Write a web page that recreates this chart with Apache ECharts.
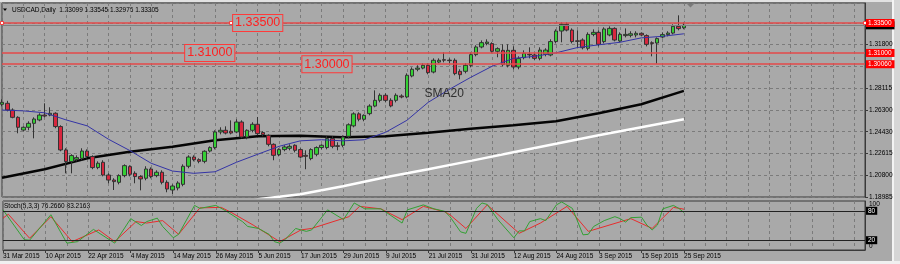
<!DOCTYPE html>
<html>
<head>
<meta charset="utf-8">
<script src="https://cdn.jsdelivr.net/npm/echarts@6/dist/echarts.min.js"></script>
<style>
html, body { margin: 0; padding: 0; background: #e4e4e4; }
#chart { width: 900px; height: 264px; }
</style>
</head>
<body>
<div id="chart"></div>
<script>
// USDCAD daily, 31 Mar 2015 - 25 Sep 2015 (plus empty future slots on the right)
const slotCount = 163;
const dateTicks = ['31 Mar 2015', '10 Apr 2015', '22 Apr 2015', '4 May 2015', '14 May 2015', '26 May 2015',
  '5 Jun 2015', '17 Jun 2015', '29 Jun 2015', '9 Jul 2015', '21 Jul 2015', '31 Jul 2015',
  '12 Aug 2015', '24 Aug 2015', '3 Sep 2015', '15 Sep 2015', '25 Sep 2015'];
const priceTicks = ['1.18985', '1.20800', '1.22615', '1.24430', '1.26300', '1.28115', '', '1.31800', ''];
const priceMin = 1.18985;
const priceStep = 0.01815;

// [open, close, low, high]
const candles = [
  [1.2672, 1.2688, 1.2655, 1.2713], [1.2680, 1.2624, 1.2613, 1.2701], [1.2624, 1.2563, 1.2555, 1.2638],
  [1.2563, 1.2480, 1.2430, 1.2572], [1.2457, 1.2480, 1.2447, 1.2488], [1.2480, 1.2513, 1.2455, 1.2530],
  [1.2513, 1.2549, 1.2388, 1.2563], [1.2541, 1.2582, 1.2530, 1.2597], [1.2582, 1.2574, 1.2563, 1.2680],
  [1.2582, 1.2597, 1.2572, 1.2647], [1.2597, 1.2486, 1.2472, 1.2605], [1.2486, 1.2291, 1.2280, 1.2497],
  [1.2291, 1.2194, 1.2096, 1.2305], [1.2194, 1.2244, 1.2096, 1.2255], [1.2213, 1.2227, 1.2196, 1.2246],
  [1.2221, 1.2282, 1.2205, 1.2305], [1.2282, 1.2236, 1.2221, 1.2296], [1.2236, 1.2144, 1.2130, 1.2246],
  [1.2144, 1.2180, 1.2130, 1.2196], [1.2188, 1.2082, 1.2071, 1.2205], [1.2082, 1.2040, 1.2013, 1.2096],
  [1.2040, 1.2027, 1.1957, 1.2055], [1.2021, 1.2077, 1.2004, 1.2088], [1.2077, 1.2160, 1.2063, 1.2171],
  [1.2152, 1.2088, 1.2071, 1.2163], [1.2096, 1.2069, 1.2013, 1.2113], [1.2069, 1.2049, 1.1954, 1.2080],
  [1.2055, 1.2132, 1.2038, 1.2155], [1.2132, 1.2069, 1.2055, 1.2146], [1.2077, 1.2105, 1.2063, 1.2121],
  [1.2105, 1.2021, 1.2004, 1.2121], [1.2021, 1.1965, 1.1938, 1.2038], [1.1957, 1.1990, 1.1921, 1.2004],
  [1.1974, 1.2015, 1.1954, 1.2030], [1.2004, 1.2155, 1.1988, 1.2171], [1.2155, 1.2232, 1.2138, 1.2246],
  [1.2232, 1.2210, 1.2196, 1.2246], [1.2210, 1.2196, 1.2180, 1.2221], [1.2196, 1.2280, 1.2180, 1.2288],
  [1.2282, 1.2311, 1.2271, 1.2321], [1.2311, 1.2441, 1.2296, 1.2455], [1.2441, 1.2455, 1.2421, 1.2480],
  [1.2455, 1.2432, 1.2421, 1.2488], [1.2447, 1.2432, 1.2421, 1.2538], [1.2441, 1.2524, 1.2430, 1.2547],
  [1.2524, 1.2399, 1.2388, 1.2538], [1.2399, 1.2455, 1.2380, 1.2463], [1.2455, 1.2505, 1.2438, 1.2522],
  [1.2505, 1.2427, 1.2413, 1.2566], [1.2436, 1.2419, 1.2405, 1.2447], [1.2413, 1.2338, 1.2321, 1.2421],
  [1.2338, 1.2246, 1.2205, 1.2346], [1.2252, 1.2294, 1.2238, 1.2305], [1.2294, 1.2316, 1.2280, 1.2330],
  [1.2305, 1.2321, 1.2288, 1.2338], [1.2330, 1.2288, 1.2271, 1.2338], [1.2294, 1.2232, 1.2221, 1.2305],
  [1.2246, 1.2238, 1.2130, 1.2288], [1.2219, 1.2294, 1.2205, 1.2305], [1.2255, 1.2311, 1.2238, 1.2321],
  [1.2311, 1.2330, 1.2296, 1.2338], [1.2311, 1.2386, 1.2296, 1.2405], [1.2386, 1.2321, 1.2305, 1.2405],
  [1.2326, 1.2321, 1.2288, 1.2355], [1.2330, 1.2399, 1.2313, 1.2413], [1.2405, 1.2501, 1.2388, 1.2513],
  [1.2492, 1.2592, 1.2480, 1.2605], [1.2592, 1.2547, 1.2530, 1.2605], [1.2547, 1.2580, 1.2530, 1.2588],
  [1.2594, 1.2657, 1.2580, 1.2672], [1.2657, 1.2705, 1.2647, 1.2788], [1.2705, 1.2747, 1.2688, 1.2763],
  [1.2747, 1.2705, 1.2688, 1.2763], [1.2705, 1.2658, 1.2647, 1.2722], [1.2705, 1.2747, 1.2688, 1.2763],
  [1.2741, 1.2733, 1.2722, 1.2755], [1.2733, 1.2914, 1.2722, 1.2930], [1.2908, 1.2964, 1.2897, 1.2980],
  [1.2964, 1.2974, 1.2947, 1.2997], [1.2974, 1.2997, 1.2964, 1.3014], [1.2997, 1.2936, 1.2922, 1.3014],
  [1.2941, 1.3039, 1.2930, 1.3055], [1.3024, 1.3039, 1.3014, 1.3055], [1.3044, 1.3040, 1.3022, 1.3105],
  [1.3040, 1.3036, 1.3014, 1.3055], [1.3039, 1.2928, 1.2914, 1.3055], [1.2947, 1.2919, 1.2880, 1.2964],
  [1.2947, 1.2997, 1.2930, 1.3014], [1.2997, 1.3086, 1.2980, 1.3105], [1.3086, 1.3150, 1.3072, 1.3164],
  [1.3150, 1.3186, 1.3139, 1.3205], [1.3178, 1.3191, 1.3164, 1.3214], [1.3178, 1.3114, 1.3097, 1.3189],
  [1.3114, 1.3136, 1.3064, 1.3147], [1.3122, 1.3003, 1.2989, 1.3172], [1.2997, 1.3122, 1.2980, 1.3172],
  [1.3122, 1.2983, 1.2964, 1.3155], [1.2983, 1.3053, 1.2964, 1.3072], [1.3061, 1.3097, 1.3047, 1.3122],
  [1.3089, 1.3084, 1.3055, 1.3147], [1.3083, 1.3055, 1.3039, 1.3097], [1.3055, 1.3124, 1.3039, 1.3147],
  [1.3089, 1.3124, 1.3072, 1.3139], [1.3083, 1.3195, 1.3072, 1.3214], [1.3195, 1.3283, 1.3180, 1.3297],
  [1.3283, 1.3339, 1.3189, 1.3355], [1.3339, 1.3291, 1.3280, 1.3355], [1.3291, 1.3195, 1.3180, 1.3305],
  [1.3201, 1.3197, 1.3139, 1.3289], [1.3208, 1.3144, 1.3130, 1.3222], [1.3139, 1.3255, 1.3122, 1.3272],
  [1.3255, 1.3272, 1.3239, 1.3297], [1.3272, 1.3172, 1.3155, 1.3289], [1.3195, 1.3300, 1.3180, 1.3314],
  [1.3250, 1.3305, 1.3239, 1.3322], [1.3305, 1.3208, 1.3197, 1.3314], [1.3200, 1.3255, 1.3189, 1.3272],
  [1.3245, 1.3255, 1.3230, 1.3305], [1.3247, 1.3260, 1.3230, 1.3281], [1.3250, 1.3264, 1.3230, 1.3281],
  [1.3264, 1.3250, 1.3239, 1.3272], [1.3245, 1.3172, 1.3155, 1.3255], [1.3185, 1.3180, 1.3072, 1.3197],
  [1.3183, 1.3220, 1.3011, 1.3230], [1.3233, 1.3253, 1.3222, 1.3272], [1.3253, 1.3266, 1.3239, 1.3281],
  [1.3266, 1.3322, 1.3255, 1.3339], [1.3322, 1.3303, 1.3289, 1.3414], [1.3310, 1.3331, 1.3298, 1.3355]
];

// moving averages, read every few bars: [bar index, price]
const sma20 = [[0, 1.2624], [4, 1.2617], [8, 1.2601], [12, 1.2542], [16, 1.2492], [20, 1.2380], [24, 1.2286],
  [28, 1.2180], [32, 1.2115], [36, 1.2096], [40, 1.2109], [44, 1.2188], [48, 1.2255], [52, 1.2321],
  [56, 1.2367], [60, 1.2376], [64, 1.2367], [68, 1.2376], [72, 1.2438], [76, 1.2538], [80, 1.2688],
  [84, 1.2797], [88, 1.2897], [92, 1.2989], [96, 1.3055], [100, 1.3072], [104, 1.3101], [108, 1.3145],
  [112, 1.3168], [116, 1.3189], [120, 1.3226], [124, 1.3239], [128, 1.3260]];
const smaBlack = [[0, 1.2059], [8, 1.2130], [16, 1.2221], [24, 1.2276], [32, 1.2317], [40, 1.2371],
  [48, 1.2405], [56, 1.2409], [64, 1.2396], [72, 1.2405], [80, 1.2434], [88, 1.2467], [96, 1.2497],
  [104, 1.2530], [112, 1.2597], [120, 1.2672], [128, 1.2784]];
const smaWhite = [[44, 1.1829], [48, 1.1879], [56, 1.1921], [64, 1.1988], [72, 1.2063], [80, 1.2130],
  [88, 1.2200], [96, 1.2271], [104, 1.2342], [112, 1.2413], [120, 1.2480], [128, 1.2547]];

// price levels drawn on the chart
const levels = [1.335, 1.31, 1.3006];
const levelLabels = ['1.33500', '1.31000', '1.30060'];
const levelNotes = [[48, 1.335, '1.33500'], [39, 1.31, '1.31000'], [61, 1.3006, '1.30000']];
const levelHandles = [[0, 1.335], [43, 1.335], [162, 1.335]];
const lastPrice = 1.33305;

// Stochastic(5,3,3): [bar index, value]
const stochK = [[0, 82], [4, 21], [5, 20], [9, 72], [12, 14], [14, 17], [17, 42], [21, 14], [24, 64],
  [26, 50], [27, 58], [29, 65], [30, 48], [32, 25], [33, 32], [36, 91], [37, 85], [40, 91], [42, 79],
  [45, 58], [46, 48], [48, 44], [50, 32], [51, 17], [52, 14], [53, 21], [55, 44], [57, 38], [58, 41],
  [60, 68], [61, 82], [64, 62], [66, 96], [68, 84], [71, 84], [72, 77], [75, 55], [76, 82], [79, 92],
  [81, 84], [83, 79], [84, 68], [86, 37], [87, 34], [89, 85], [90, 96], [91, 93], [93, 62], [96, 25],
  [97, 39], [98, 39], [99, 58], [101, 64], [102, 60], [104, 92], [105, 98], [107, 85], [109, 31],
  [110, 32], [111, 48], [113, 60], [115, 68], [116, 64], [117, 57], [118, 66], [120, 67], [121, 51],
  [122, 41], [123, 51], [124, 84], [126, 91], [127, 85], [128, 76.27]];
const stochD = [[0, 65], [1, 73], [5, 24], [9, 68], [13, 17], [18, 41], [21, 17], [25, 58], [27, 55],
  [30, 60], [33, 32], [37, 86], [41, 87], [43, 76], [47, 51], [52, 17], [56, 41], [58, 44], [65, 68],
  [67, 89], [71, 84], [75, 62], [79, 89], [83, 78], [84, 72], [87, 44], [91, 92], [97, 34], [101, 55],
  [106, 89], [110, 38], [118, 64], [122, 44], [126, 87], [128, 83.22]];
const stochLevels = [80, 20];

const font = 'Liberation Sans, Arial, sans-serif';
const bg = '#a9a9a9';
const slots = Array.from({ length: slotCount }, (_, i) => String(i));
const dashed = { show: true, interval: (i) => i % 4 === 0, lineStyle: { color: '#7b7b7b', type: [3, 3], width: 1 } };
const frame = '#3a3a3a';

const axisTag = (text, fill) => ({ show: true, position: 'end', formatter: text, color: '#fff', backgroundColor: fill,
  fontSize: 6.5, padding: [1, 3, 0, 2], distance: 1, fontFamily: font });

const chart = echarts.init(document.getElementById('chart'));
chart.setOption({
  animation: false,
  backgroundColor: bg,
  textStyle: { fontFamily: font },
  graphic: [
    { type: 'rect', shape: { x: 0, y: 0, width: 900, height: 2 }, style: { fill: '#e2e2e2' } },
    { type: 'rect', shape: { x: 892, y: 0, width: 2, height: 264 }, style: { fill: '#f4f4f4' } },
    { type: 'rect', shape: { x: 894, y: 0, width: 6, height: 264 }, style: { fill: '#d6d6d6' } },
    { type: 'rect', shape: { x: 0, y: 261, width: 900, height: 3 }, style: { fill: '#f0f0f0' } },
    { type: 'polygon', shape: { points: [[3, 8.5], [7, 8.5], [5, 11]] }, style: { fill: '#000' } },
    { type: 'polygon', shape: { points: [[687, 4], [694, 4], [690.5, 7.5]] }, style: { fill: '#7a7a7a' } },
    { type: 'text', style: { text: 'USDCAD,Daily  1.33099 1.33545 1.32976 1.33305', x: 12, y: 10,
      font: '6.5px ' + font, fill: '#000', verticalAlign: 'middle' } },
    { type: 'text', style: { text: 'Stoch(5,3,3) 76.2660 83.2163', x: 4, y: 206.5,
      font: '6.5px ' + font, fill: '#000', verticalAlign: 'middle' } },
    // bottom label of the stochastic scale
    { type: 'text', style: { text: '0', x: 869, y: 246, font: '6.5px ' + font, fill: '#000', verticalAlign: 'middle' } }
  ],
  grid: [
    { left: 2, top: 3, width: 863, height: 194, show: true, borderColor: frame, borderWidth: 1 },
    { left: 2, top: 201, width: 863, height: 49, show: true, borderColor: frame, borderWidth: 1 }
  ],
  xAxis: [
    { type: 'category', gridIndex: 0, data: slots, boundaryGap: false,
      axisLine: { show: false }, axisTick: { show: false }, axisLabel: { show: false }, splitLine: dashed },
    { type: 'category', gridIndex: 1, data: slots, boundaryGap: false,
      axisLine: { show: true, lineStyle: { color: frame } },
      axisTick: { show: true, length: 3, interval: (i) => i % 8 === 0 && i <= 128, lineStyle: { color: frame } },
      axisLabel: { interval: (i) => i % 8 === 0 && i <= 128, formatter: (v, i) => dateTicks[i / 8] || '',
        align: 'left', fontSize: 6.5, color: '#000', margin: 3, fontFamily: font },
      splitLine: dashed }
  ],
  yAxis: [
    { type: 'value', gridIndex: 0, position: 'right', min: priceMin, max: 1.35168, interval: priceStep,
      axisLine: { show: true, lineStyle: { color: frame } },
      axisTick: { show: true, length: 3, lineStyle: { color: frame } },
      axisLabel: { fontSize: 6.5, color: '#000', margin: 4, showMaxLabel: false, fontFamily: font,
        formatter: (v) => {
          const k = Math.round((v - priceMin) / priceStep);
          return Math.abs(v - (priceMin + k * priceStep)) < 1e-6 ? (priceTicks[k] || '') : '';
        } },
      splitLine: { show: true, lineStyle: { color: '#7b7b7b', type: [3, 3], width: 1 } } },
    { type: 'value', gridIndex: 1, position: 'right', min: 0, max: 100, interval: 100,
      axisLine: { show: true, lineStyle: { color: frame } }, axisTick: { show: false },
      splitLine: { show: false },
      axisLabel: { fontSize: 6.5, color: '#000', margin: 4, fontFamily: font, verticalAlign: 'top',
        formatter: (v) => (v === 100 ? '100' : '') } }
  ],
  series: [
    { type: 'line', xAxisIndex: 0, yAxisIndex: 0, data: smaBlack, symbol: 'none', z: 2,
      lineStyle: { color: '#050505', width: 2.5 } },
    { type: 'line', xAxisIndex: 0, yAxisIndex: 0, data: smaWhite, symbol: 'none', z: 2,
      lineStyle: { color: '#ffffff', width: 2.5 } },
    { type: 'candlestick', xAxisIndex: 0, yAxisIndex: 0, data: candles, barWidth: 4, z: 3,
      itemStyle: { color: '#34d034', color0: '#d8263e', borderColor: '#333', borderColor0: '#333',
        borderColorDoji: '#333', borderWidth: 1 } },
    { type: 'line', name: 'SMA20', xAxisIndex: 0, yAxisIndex: 0, data: sma20, symbol: 'none', z: 4,
      lineStyle: { color: '#3434a6', width: 1 },
      markLine: { silent: true, symbol: 'none', animation: false, precision: 5,
        data: [
          { yAxis: lastPrice, lineStyle: { color: '#808080', width: 1, type: 'solid' },
            label: axisTag('1.33305', '#000') }
        ].concat(levels.map((p, k) => ({
          yAxis: p, lineStyle: { color: '#e54a4a', width: 1.5, type: 'solid' },
          label: axisTag(levelLabels[k], '#ff0000')
        }))) },
      markPoint: { silent: true, symbol: 'rect', symbolSize: 1, itemStyle: { color: 'rgba(0,0,0,0)' },
        data: levelNotes.map((n) => ({ coord: [n[0], n[1]], name: n[2],
          label: { color: '#ff1f1f', fontSize: 12.5, borderColor: '#ff3a3a', borderWidth: 1,
            backgroundColor: bg, padding: [2, 2, 1, 2] } }))
          .concat([{ coord: [83, 1.2763], name: 'SMA20', label: { color: '#2e2e2e', fontSize: 12 } }])
          .concat(levelHandles.map((h) => ({ coord: h, name: '', symbolSize: 3,
            itemStyle: { color: '#fff', borderColor: '#ff2020', borderWidth: 0.8 } }))),
        label: { show: true, position: 'inside', formatter: '{b}', fontFamily: font } } },
    { type: 'line', xAxisIndex: 1, yAxisIndex: 1, data: stochD, symbol: 'none', z: 3,
      lineStyle: { color: '#e82c2c', width: 1 } },
    { type: 'line', xAxisIndex: 1, yAxisIndex: 1, data: stochK, symbol: 'none', z: 4,
      lineStyle: { color: '#34a034', width: 1 },
      markLine: { silent: true, symbol: 'none', animation: false,
        lineStyle: { color: '#222', width: 1, type: 'solid' },
        data: stochLevels.map((v) => ({ yAxis: v })),
        label: { show: true, position: 'end', formatter: (p) => String(p.value), color: '#fff',
          backgroundColor: '#000', fontSize: 6.5, padding: [1, 2, 0, 2], distance: 1, fontFamily: font } } }
  ]
});
</script>
</body>
</html>
